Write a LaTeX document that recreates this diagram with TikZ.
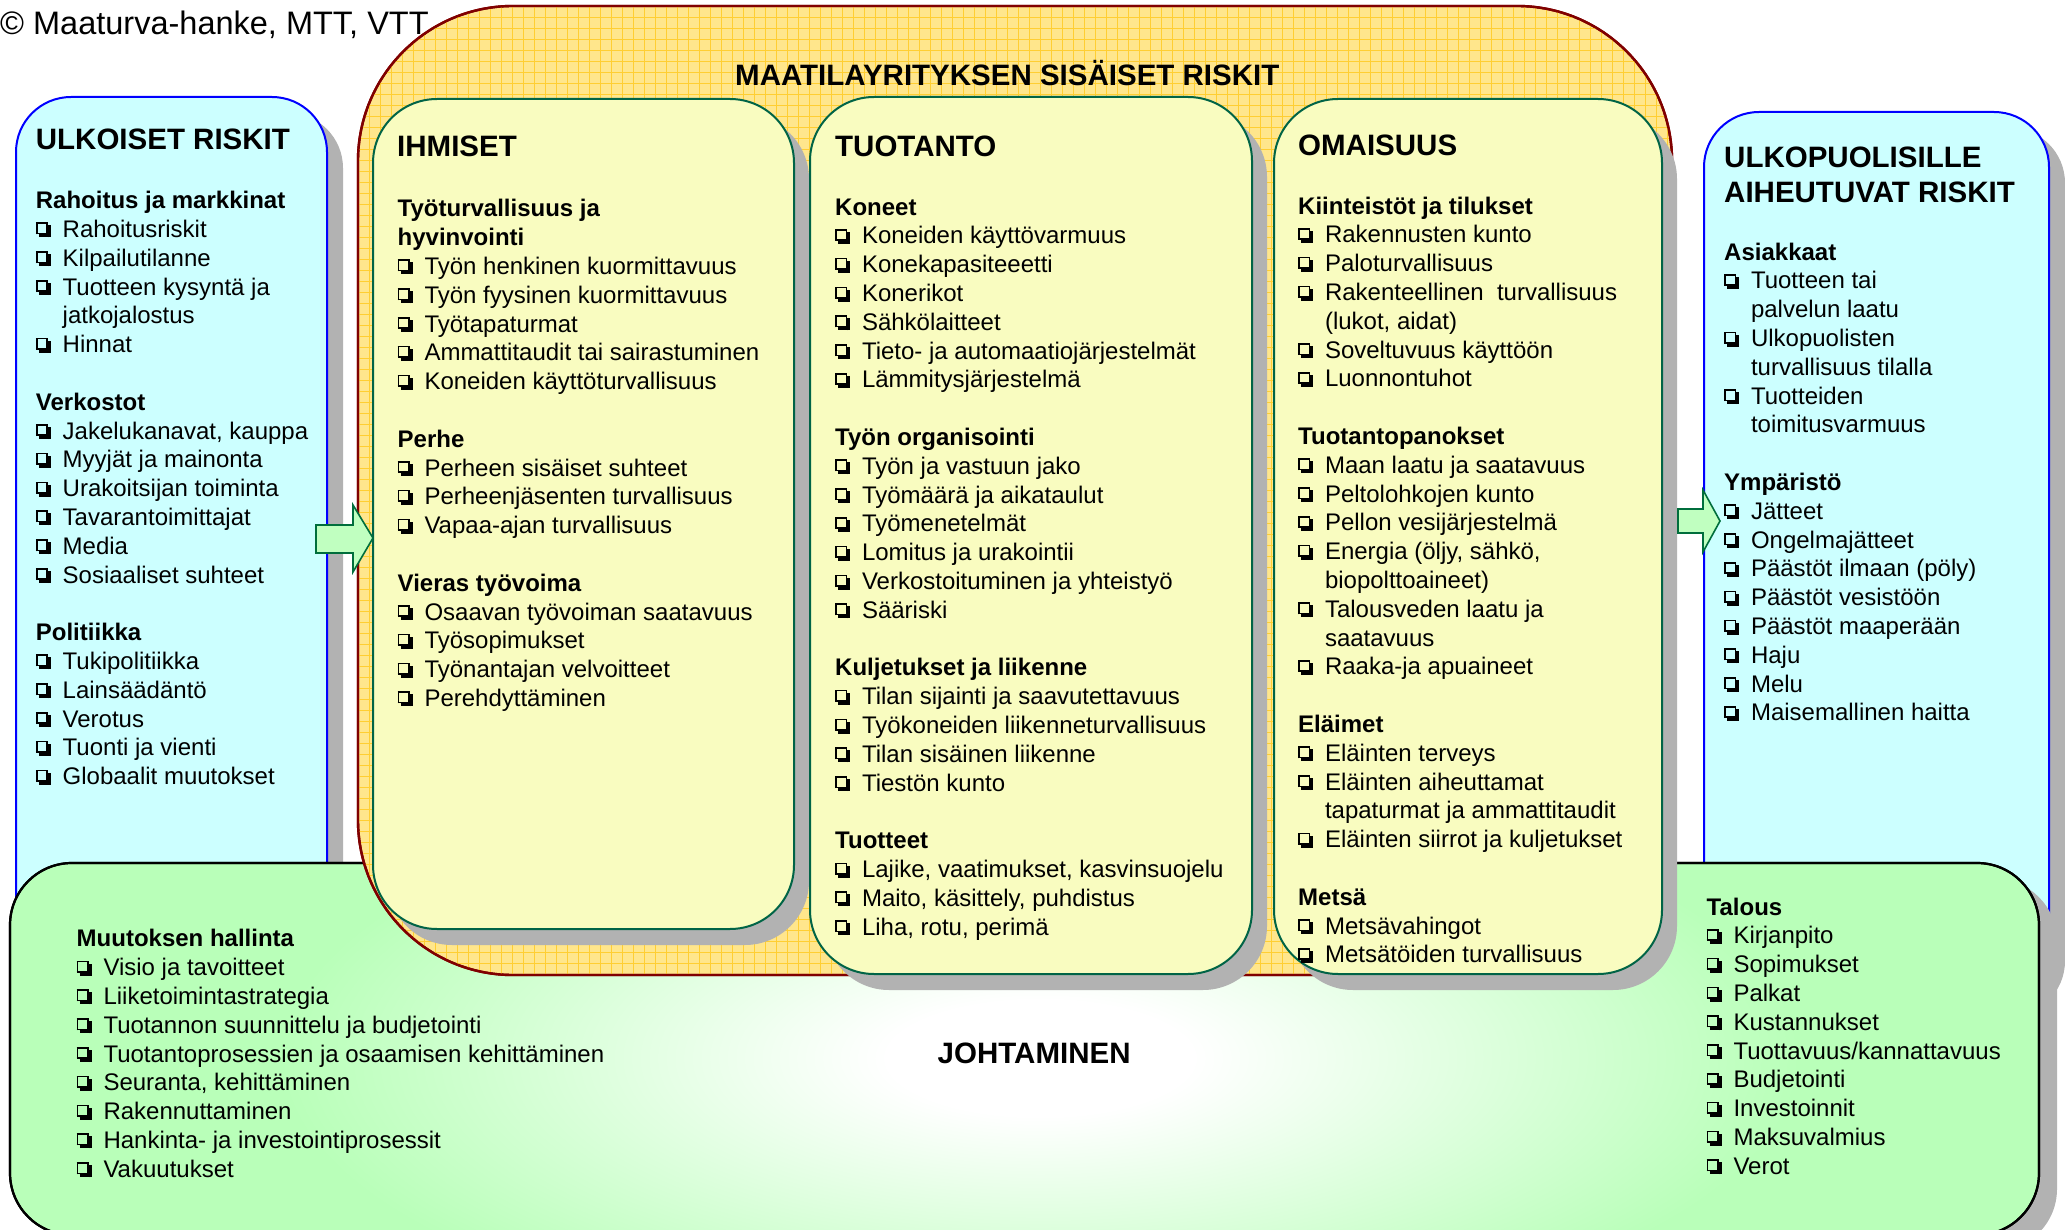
\documentclass[tikz,border=0pt]{standalone}
\usepackage{fontspec}
\setmainfont{Liberation Sans}
\usetikzlibrary{shadows}

\definecolor{cyanfill}{RGB}{204,255,255}
\definecolor{cyanline}{RGB}{0,0,255}
\definecolor{yelfill}{RGB}{249,252,192}
\definecolor{yelline}{RGB}{0,100,70}
\definecolor{orafill}{RGB}{255,230,140}
\definecolor{oragrid}{RGB}{255,206,50}
\definecolor{oraline}{RGB}{128,0,0}
\definecolor{grn}{RGB}{185,255,185}
\definecolor{shad}{RGB}{178,178,178}
\definecolor{arrfill}{RGB}{192,255,192}
\definecolor{arrline}{RGB}{0,110,60}

\pgfdeclareradialshading{johto}{\pgfpointorigin}{color(0bp)=(white); color(5bp)=(white); color(25bp)=(grn); color(50bp)=(grn)}

% checkbox drawn from rules: outline square with heavy shadow to the lower right
\newcommand\cbr[4]{\rlap{\hspace*{#1}\raisebox{#2}{\rule{#3}{#4}}}}
\newcommand\cbox{%
  \cbr{0pt}{3pt}{12pt}{1.6pt}%      bottom of outline
  \cbr{0pt}{13.4pt}{12pt}{1.6pt}%   top
  \cbr{0pt}{3pt}{1.6pt}{12pt}%      left
  \cbr{10.4pt}{3pt}{1.6pt}{12pt}%   right
  \cbr{12pt}{0pt}{3pt}{12pt}%       shadow right
  \cbr{3pt}{0pt}{12pt}{3pt}}%       shadow bottom
\newcommand\cb{\makebox[26.8pt][l]{\cbox}}
\newcommand\myhd[1]{\strut\textbf{#1}}
\newcommand\myit[1]{\strut\cb #1}
\newcommand\myct[1]{\strut\hspace*{26.8pt}#1}
\newcommand\mybl{\strut}

\tikzset{
  panel/.style={line width=2pt, anchor=north west, inner sep=0pt, outer sep=0pt},
  cyanbox/.style={panel, draw=cyanline, fill=cyanfill, rounded corners=55pt,
    drop shadow={shadow xshift=16pt, shadow yshift=-16pt, fill=shad, opacity=1}},
  yelbox/.style={panel, draw=yelline, fill=yelfill, rounded corners=64pt,
    drop shadow={shadow xshift=15pt, shadow yshift=-16pt, fill=shad, opacity=1}},
  title/.style={anchor=base west, inner sep=0pt, font=\fontsize{29.5}{35}\selectfont\bfseries},
  column/.style={anchor=north west, inner sep=0pt, align=left, font=\fontsize{24}{28.8}\selectfont},
  blockarrow/.style={draw=arrline, fill=arrfill, line width=1.6pt, line join=miter},
}

\begin{document}
\begin{tikzpicture}[x=1pt, y=-1pt]
\useasboundingbox (0,0) rectangle (2065,1230);

% outer cyan panels
\node[cyanbox, minimum width=311pt, minimum height=903pt] (ulk) at (16,97) {};
\node[cyanbox, minimum width=345pt, minimum height=888pt] (ulp) at (1704,112) {};

% green management panel
\node[panel, draw=black, line width=2.2pt, rounded corners=62pt, fill=grn,
  minimum width=2029pt, minimum height=372pt,
  drop shadow={shadow xshift=18pt, shadow yshift=-16pt, fill=shad, opacity=1}] (joh) at (10,863) {};
\begin{scope}
  \clip[rounded corners=62pt] (joh.north west) rectangle (joh.south east);
  \shade[shading=johto] (1040,1058) ellipse [x radius=760, y radius=290];
\end{scope}
\draw[black, line width=2.2pt, rounded corners=62pt] (joh.north west) rectangle (joh.south east);

% orange inner-risk panel
\node[panel, draw=oraline, fill=orafill, line width=2.4pt, rounded corners=155pt,
  minimum width=1314pt, minimum height=969pt] (mai) at (358,6) {};
\begin{scope}
  \clip[rounded corners=155pt] (mai.north west) rectangle (mai.south east);
  \foreach \i in {0,...,120} {\draw[oragrid, line width=0.8pt] ({358+11*\i},6) -- ({358+11*\i},975);}
  \foreach \i in {0,...,89} {\draw[oragrid, line width=0.8pt] (358,{6+11*\i}) -- (1672,{6+11*\i});}
\end{scope}
\draw[oraline, line width=2.4pt, rounded corners=155pt] (mai.north west) rectangle (mai.south east);

% yellow panels
\node[yelbox, minimum width=421pt, minimum height=830pt] (ihm) at (373,99) {};
\node[yelbox, minimum width=442pt, minimum height=877pt] (tuo) at (810,97) {};
\node[yelbox, minimum width=388pt, minimum height=875pt] (oma) at (1274,99) {};

% block arrows
\draw[blockarrow] (316,525) -- (353,525) -- (353,505) -- (373,538) -- (353,572) -- (353,553) -- (316,553) -- cycle;
\draw[blockarrow] (1678,509) -- (1703,509) -- (1703,490) -- (1720,521) -- (1703,552) -- (1703,533) -- (1678,533) -- cycle;

% texts
\node[anchor=base west, inner sep=0pt, font=\fontsize{32.5}{38}\selectfont] (copy) at (0,35) {© Maaturva-hanke, MTT, VTT};

\node[title] (mait) at (735,86) {MAATILAYRITYKSEN SISÄISET RISKIT};
\node[title] (ulkt) at (35.7,150) {ULKOISET RISKIT};
\node[title] (ihmt) at (397,157) {IHMISET};
\node[title] (tuot) at (835,157) {TUOTANTO};
\node[title] (omat) at (1298,156) {OMAISUUS};
\node[anchor=north west, inner sep=0pt, align=left, font=\fontsize{29.5}{35}\selectfont\bfseries] (ulpt) at (1724,142.5) {\strut ULKOPUOLISILLE\\\strut AIHEUTUVAT RISKIT};
\node[title] (joht) at (937.5,1063) {JOHTAMINEN};

\node[column] (ulkc) at (35.7,188.3) {%
\myhd{Rahoitus ja markkinat}\\
\myit{Rahoitusriskit}\\
\myit{Kilpailutilanne}\\
\myit{Tuotteen kysyntä ja}\\
\myct{jatkojalostus}\\
\myit{Hinnat}\\
\mybl\\
\myhd{Verkostot}\\
\myit{Jakelukanavat, kauppa}\\
\myit{Myyjät ja mainonta}\\
\myit{Urakoitsijan toiminta}\\
\myit{Tavarantoimittajat}\\
\myit{Media}\\
\myit{Sosiaaliset suhteet}\\
\mybl\\
\myhd{Politiikka}\\
\myit{Tukipolitiikka}\\
\myit{Lainsäädäntö}\\
\myit{Verotus}\\
\myit{Tuonti ja vienti}\\
\myit{Globaalit muutokset}};

\node[column] (ihmc) at (397.5,196.5) {%
\myhd{Työturvallisuus ja}\\
\myhd{hyvinvointi}\\
\myit{Työn henkinen kuormittavuus}\\
\myit{Työn fyysinen kuormittavuus}\\
\myit{Työtapaturmat}\\
\myit{Ammattitaudit tai sairastuminen}\\
\myit{Koneiden käyttöturvallisuus}\\
\mybl\\
\myhd{Perhe}\\
\myit{Perheen sisäiset suhteet}\\
\myit{Perheenjäsenten turvallisuus}\\
\myit{Vapaa-ajan turvallisuus}\\
\mybl\\
\myhd{Vieras työvoima}\\
\myit{Osaavan työvoiman saatavuus}\\
\myit{Työsopimukset}\\
\myit{Työnantajan velvoitteet}\\
\myit{Perehdyttäminen}};

\node[column] (tuoc) at (835,194.8) {%
\myhd{Koneet}\\
\myit{Koneiden käyttövarmuus}\\
\myit{Konekapasiteeetti}\\
\myit{Konerikot}\\
\myit{Sähkölaitteet}\\
\myit{Tieto- ja automaatiojärjestelmät}\\
\myit{Lämmitysjärjestelmä}\\
\mybl\\
\myhd{Työn organisointi}\\
\myit{Työn ja vastuun jako}\\
\myit{Työmäärä ja aikataulut}\\
\myit{Työmenetelmät}\\
\myit{Lomitus ja urakointii}\\
\myit{Verkostoituminen ja yhteistyö}\\
\myit{Sääriski}\\
\mybl\\
\myhd{Kuljetukset ja liikenne}\\
\myit{Tilan sijainti ja saavutettavuus}\\
\myit{Työkoneiden liikenneturvallisuus}\\
\myit{Tilan sisäinen liikenne}\\
\myit{Tiestön kunto}\\
\mybl\\
\myhd{Tuotteet}\\
\myit{Lajike, vaatimukset, kasvinsuojelu}\\
\myit{Maito, käsittely, puhdistus}\\
\myit{Liha, rotu, perimä}};

\node[column] (omac) at (1298,193.8) {%
\myhd{Kiinteistöt ja tilukset}\\
\myit{Rakennusten kunto}\\
\myit{Paloturvallisuus}\\
\myit{Rakenteellinen\ \ turvallisuus}\\
\myct{(lukot, aidat)}\\
\myit{Soveltuvuus käyttöön}\\
\myit{Luonnontuhot}\\
\mybl\\
\myhd{Tuotantopanokset}\\
\myit{Maan laatu ja saatavuus}\\
\myit{Peltolohkojen kunto}\\
\myit{Pellon vesijärjestelmä}\\
\myit{Energia (öljy, sähkö,}\\
\myct{biopolttoaineet)}\\
\myit{Talousveden laatu ja}\\
\myct{saatavuus}\\
\myit{Raaka-ja apuaineet}\\
\mybl\\
\myhd{Eläimet}\\
\myit{Eläinten terveys}\\
\myit{Eläinten aiheuttamat}\\
\myct{tapaturmat ja ammattitaudit}\\
\myit{Eläinten siirrot ja kuljetukset}\\
\mybl\\
\myhd{Metsä}\\
\myit{Metsävahingot}\\
\myit{Metsätöiden turvallisuus}};

\node[column] (ulpc) at (1724,239.8) {%
\myhd{Asiakkaat}\\
\myit{Tuotteen tai}\\
\myct{palvelun laatu}\\
\myit{Ulkopuolisten}\\
\myct{turvallisuus tilalla}\\
\myit{Tuotteiden}\\
\myct{toimitusvarmuus}\\
\mybl\\
\myhd{Ympäristö}\\
\myit{Jätteet}\\
\myit{Ongelmajätteet}\\
\myit{Päästöt ilmaan (pöly)}\\
\myit{Päästöt vesistöön}\\
\myit{Päästöt maaperään}\\
\myit{Haju}\\
\myit{Melu}\\
\myit{Maisemallinen haitta}};

\node[column] (muuc) at (76.5,926.5) {%
\myhd{Muutoksen hallinta}\\
\myit{Visio ja tavoitteet}\\
\myit{Liiketoimintastrategia}\\
\myit{Tuotannon suunnittelu ja budjetointi}\\
\myit{Tuotantoprosessien ja osaamisen kehittäminen}\\
\myit{Seuranta, kehittäminen}\\
\myit{Rakennuttaminen}\\
\myit{Hankinta- ja investointiprosessit}\\
\myit{Vakuutukset}};

\node[column] (talc) at (1706.5,894.8) {%
\myhd{Talous}\\
\myit{Kirjanpito}\\
\myit{Sopimukset}\\
\myit{Palkat}\\
\myit{Kustannukset}\\
\myit{Tuottavuus/kannattavuus}\\
\myit{Budjetointi}\\
\myit{Investoinnit}\\
\myit{Maksuvalmius}\\
\myit{Verot}};

\end{tikzpicture}
\end{document}
